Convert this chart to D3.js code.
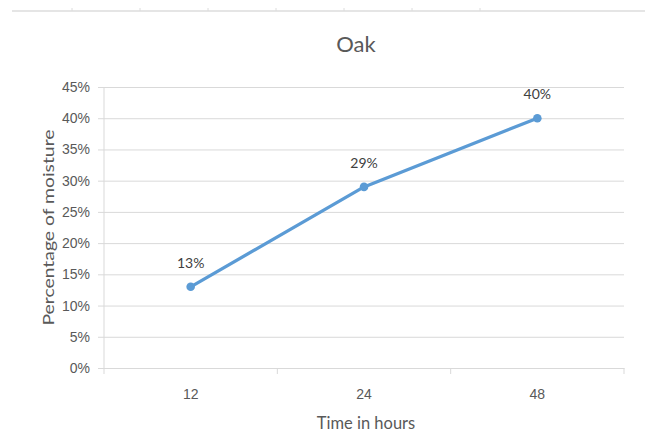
<!DOCTYPE html>
<html>
<head>
<meta charset="utf-8">
<script src="https://cdn.jsdelivr.net/npm/d3@7"></script>
<style>
  html, body { margin: 0; padding: 0; background: #fff; }
  svg { display: block; font-family: Lato, "Open Sans", sans-serif; }
</style>
</head>
<body>
<svg id="chart" width="645" height="434"></svg>
<script>
// Moisture content of oak over drying time
const hours = ["12", "24", "48"];
const moisture = [0.13, 0.29, 0.40];
const yTicks = [0, 0.05, 0.10, 0.15, 0.20, 0.25, 0.30, 0.35, 0.40, 0.45];
const headerTicks = [72, 140, 208, 276, 344, 412, 480];

const svg = d3.select("#chart");
const grid = "#d9d9d9";
const textColor = "#595959";

// decorative header rule
svg.append("line").attr("x1", 12).attr("x2", 645).attr("y1", 11).attr("y2", 11)
  .attr("stroke", "#dcdcdc").attr("stroke-width", 1.5);
svg.selectAll("line.htick").data(headerTicks).join("line")
  .attr("class", "htick")
  .attr("x1", d => d).attr("x2", d => d).attr("y1", 8).attr("y2", 11)
  .attr("stroke", "#dcdcdc");

const plotLeft = 104, plotRight = 624, plotTop = 87, plotBottom = 368;

const x = d3.scaleBand().domain(hours).range([plotLeft, plotRight]);
const y = d3.scaleLinear().domain([0, 0.45]).range([plotBottom, plotTop]);

// horizontal gridlines with short outer ticks
svg.append("g").attr("transform", `translate(${plotLeft},0)`)
  .call(d3.axisLeft(y).tickValues(yTicks).tickFormat(d3.format(".0%"))
    .tickSizeInner(6).tickSizeOuter(0).tickPadding(10))
  .call(g => g.select(".domain").remove())
  .call(g => g.selectAll(".tick line").attr("stroke", grid).attr("x1", -6).attr("x2", plotRight - plotLeft))
  .call(g => g.selectAll(".tick text").attr("fill", textColor).style("font-size", "14px")
    .attr("x", -14));

// vertical axis line
svg.append("line").attr("x1", plotLeft).attr("x2", plotLeft).attr("y1", plotTop).attr("y2", plotBottom)
  .attr("stroke", grid);

// category axis
svg.append("g").attr("transform", `translate(0,${plotBottom})`)
  .call(d3.axisBottom(x).tickSize(0).tickPadding(21))
  .call(g => g.select(".domain").attr("stroke", grid))
  .call(g => g.selectAll(".tick text").attr("fill", textColor).style("font-size", "14px"));

// band boundary ticks on the category axis
const bounds = hours.map(h => x(h)).concat([x(hours[hours.length - 1]) + x.bandwidth()]);
svg.selectAll("line.xtick").data(bounds).join("line")
  .attr("class", "xtick")
  .attr("x1", d => d).attr("x2", d => d).attr("y1", plotBottom).attr("y2", plotBottom + 6)
  .attr("stroke", grid);

// series line
const cx = (d, i) => x(hours[i]) + x.bandwidth() / 2;
svg.append("path").datum(moisture)
  .attr("d", d3.line().x(cx).y(d => y(d)))
  .attr("fill", "none").attr("stroke", "#5b9bd5").attr("stroke-width", 3.3)
  .attr("stroke-linejoin", "round").attr("stroke-linecap", "round");

svg.selectAll("circle.pt").data(moisture).join("circle")
  .attr("class", "pt")
  .attr("cx", cx).attr("cy", d => y(d)).attr("r", 4.3)
  .attr("fill", "#5b9bd5");

// value labels
svg.selectAll("text.val").data(moisture).join("text")
  .attr("class", "val")
  .attr("x", cx).attr("y", d => y(d) - 19)
  .attr("text-anchor", "middle").attr("fill", "#404040")
  .style("font-size", "14px")
  .text(d => d3.format(".0%")(d));

// title
svg.append("text").attr("x", 356).attr("y", 52).attr("text-anchor", "middle")
  .attr("fill", textColor).style("font-size", "22px").text("Oak");

// axis titles
svg.append("text").attr("x", 366).attr("y", 429).attr("text-anchor", "middle")
  .attr("fill", textColor).style("font-size", "16.5px").text("Time in hours");

svg.append("text")
  .attr("transform", `translate(54,${(plotTop + plotBottom) / 2}) rotate(-90)`)
  .attr("text-anchor", "middle").attr("fill", textColor)
  .attr("textLength", 196).attr("lengthAdjust", "spacingAndGlyphs")
  .style("font-size", "16px").text("Percentage of moisture");
</script>
</body>
</html>
